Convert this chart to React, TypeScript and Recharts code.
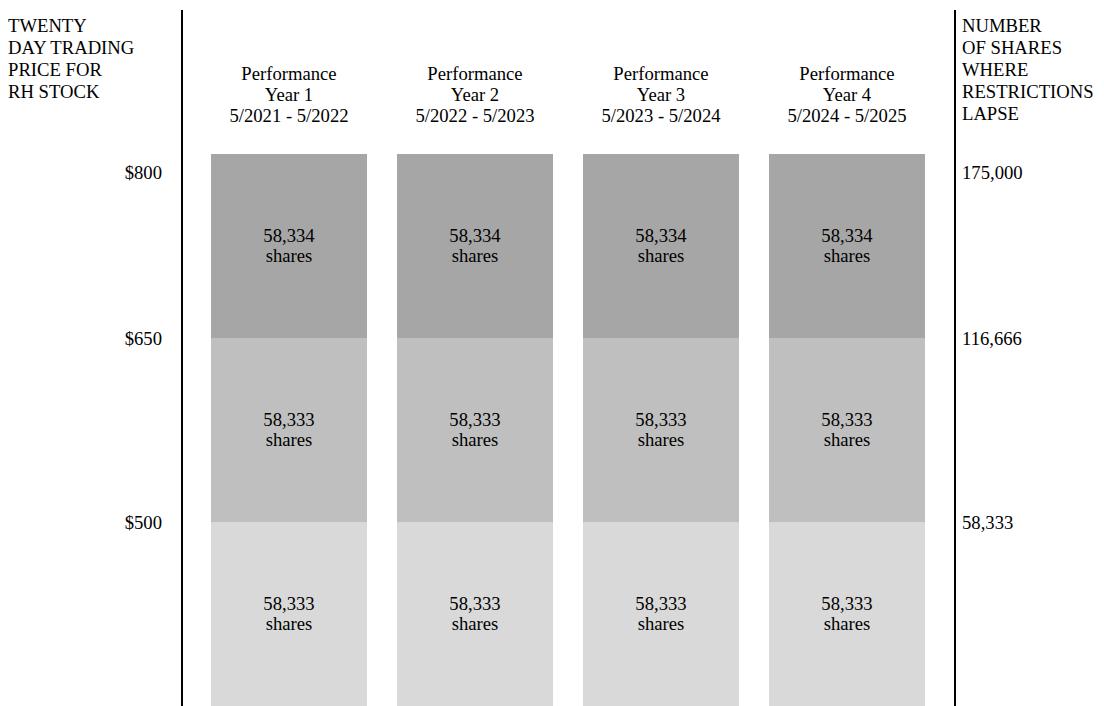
import React from "react";
import { BarChart, Bar, XAxis, YAxis, LabelList } from "recharts";

const periods = ["Year 1", "Year 2", "Year 3", "Year 4"];
const ranges = ["5/2021 - 5/2022", "5/2022 - 5/2023", "5/2023 - 5/2024", "5/2024 - 5/2025"];
const tier1Shares = [58333, 58333, 58333, 58333];
const tier2Shares = [58333, 58333, 58333, 58333];
const tier3Shares = [58334, 58334, 58334, 58334];
const cumulativeTicks = [58333, 116666, 175000];
const priceLabels = ["$500", "$650", "$800"];
const shareLabels = ["58,333", "116,666", "175,000"];
const leftTitle = ["TWENTY", "DAY TRADING", "PRICE FOR", "RH STOCK"];
const rightTitle = ["NUMBER", "OF SHARES", "WHERE", "RESTRICTIONS", "LAPSE"];

const data = periods.map((p, i) => ({
  period: p,
  range: ranges[i],
  t1: tier1Shares[i],
  t2: tier2Shares[i],
  t3: tier3Shares[i],
}));

const FONT = "'Liberation Serif', 'Times New Roman', serif";
const FS = 18.67;
const TOP = cumulativeTicks[cumulativeTicks.length - 1];
const fmt = (v: number) => v.toLocaleString("en-US");

const HeaderTick = (props: any) => {
  const { x, y, payload, index } = props;
  return (
    <g>
      <text x={x} y={y - 74} textAnchor="middle" fontFamily={FONT} fontSize={FS} fill="#000">
        Performance
      </text>
      <text x={x} y={y - 53} textAnchor="middle" fontFamily={FONT} fontSize={FS} fill="#000">
        {payload.value}
      </text>
      <text x={x} y={y - 32} textAnchor="middle" fontFamily={FONT} fontSize={FS} fill="#000">
        {ranges[index]}
      </text>
    </g>
  );
};

const LeftTick = (props: any) => {
  const { x, y, payload } = props;
  const i = cumulativeTicks.indexOf(payload.value);
  const shift = payload.value === TOP ? 18 : 0;
  return (
    <text x={x} y={y + shift} dy="0.35em" textAnchor="end" fontFamily={FONT} fontSize={FS} fill="#000">
      {priceLabels[i]}
    </text>
  );
};

const RightTick = (props: any) => {
  const { x, y, payload } = props;
  const i = cumulativeTicks.indexOf(payload.value);
  const shift = payload.value === TOP ? 18 : 0;
  return (
    <text x={x} y={y + shift} dy="0.35em" textAnchor="start" fontFamily={FONT} fontSize={FS} fill="#000">
      {shareLabels[i]}
    </text>
  );
};

const LeftAxisLabel = (props: any) => {
  const vb = props.viewBox || {};
  const lineX = vb.x + vb.width;
  return (
    <g>
      <line x1={lineX} x2={lineX} y1={10} y2={vb.y + vb.height} stroke="#000" strokeWidth={2} />
      {leftTitle.map((t, i) => (
        <text key={t} x={8} y={32 + i * 22} fontFamily={FONT} fontSize={FS} fill="#000">
          {t}
        </text>
      ))}
    </g>
  );
};

const RightAxisLabel = (props: any) => {
  const vb = props.viewBox || {};
  const lineX = vb.x;
  return (
    <g>
      <line x1={lineX} x2={lineX} y1={10} y2={vb.y + vb.height} stroke="#000" strokeWidth={2} />
      {rightTitle.map((t, i) => (
        <text key={t} x={lineX + 7} y={32 + i * 22} fontFamily={FONT} fontSize={FS} fill="#000">
          {t}
        </text>
      ))}
    </g>
  );
};

const SegmentLabel = (props: any) => {
  const { x, y, width, height, value } = props;
  const cx = x + width / 2;
  const cy = y + height / 2;
  return (
    <g>
      <text x={cx} y={cy - 4} textAnchor="middle" fontFamily={FONT} fontSize={FS} fill="#000">
        {fmt(value)}
      </text>
      <text x={cx} y={cy + 16} textAnchor="middle" fontFamily={FONT} fontSize={FS} fill="#000">
        shares
      </text>
    </g>
  );
};

export default function App() {
  return (
    <div style={{ position: "absolute", left: 0, top: 0, width: 1104, height: 706, background: "#fff" }}>
      <BarChart
        width={1104}
        height={706}
        data={data}
        margin={{ top: 0, right: 0, bottom: 0, left: 0 }}
        barSize={156}
      >
        <XAxis
          dataKey="period"
          orientation="top"
          height={154}
          axisLine={false}
          tickLine={false}
          tickSize={0}
          tickMargin={0}
          padding={{ left: 14, right: 15 }}
          tick={<HeaderTick />}
          interval={0}
        />
        <YAxis
          yAxisId="left"
          orientation="left"
          width={182}
          domain={[0, TOP]}
          allowDataOverflow
          ticks={cumulativeTicks}
          axisLine={false}
          tickLine={false}
          tickSize={0}
          tickMargin={20}
          tick={<LeftTick />}
          label={{ content: <LeftAxisLabel /> }}
          interval={0}
        />
        <YAxis
          yAxisId="right"
          orientation="right"
          width={149}
          domain={[0, TOP]}
          allowDataOverflow
          type="number"
          ticks={cumulativeTicks}
          axisLine={false}
          tickLine={false}
          tickSize={0}
          tickMargin={7}
          tick={<RightTick />}
          label={{ content: <RightAxisLabel /> }}
          interval={0}
        />
        <Bar dataKey="t1" stackId="a" yAxisId="left" fill="#d9d9d9" isAnimationActive={false}>
          <LabelList dataKey="t1" content={<SegmentLabel />} />
        </Bar>
        <Bar dataKey="t2" stackId="a" yAxisId="left" fill="#bfbfbf" isAnimationActive={false}>
          <LabelList dataKey="t2" content={<SegmentLabel />} />
        </Bar>
        <Bar dataKey="t3" stackId="a" yAxisId="left" fill="#a6a6a6" isAnimationActive={false}>
          <LabelList dataKey="t3" content={<SegmentLabel />} />
        </Bar>
      </BarChart>
    </div>
  );
}
